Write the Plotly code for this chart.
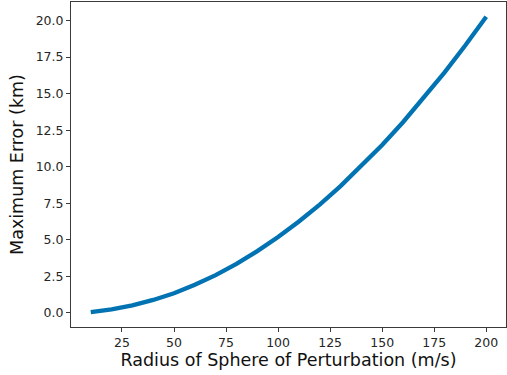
import plotly.graph_objects as go

radius = [10, 20, 30, 40, 50, 60, 70, 80, 90, 100, 110, 120, 130, 140, 150, 160, 170, 180, 190, 200]
max_error = [0.06, 0.24, 0.52, 0.89, 1.35, 1.93, 2.59, 3.36, 4.23, 5.19, 6.25, 7.41, 8.67, 10.03, 11.48, 13.04, 14.7, 16.45, 18.3, 20.25]
x_ticks = [25, 50, 75, 100, 125, 150, 175, 200]
y_ticks = [0, 2.5, 5, 7.5, 10, 12.5, 15, 17.5, 20]

fig = go.Figure()
fig.add_trace(go.Scatter(x=radius, y=max_error, mode="lines",
                         line=dict(color="#0173b2", width=4.3), showlegend=False))

axis_common = dict(showgrid=False, zeroline=False, showline=True, mirror=True,
                   linecolor="#3a3a3a", linewidth=1, ticks="outside", ticklen=4,
                   tickwidth=1, tickcolor="#3a3a3a",
                   tickfont=dict(family="DejaVu Sans", size=12.5, color="#262626"))

fig.update_xaxes(range=[0.5, 209.5], tickvals=x_ticks, ticktext=[str(v) for v in x_ticks],
                 title=dict(text="Radius of Sphere of Perturbation (m/s)",
                            font=dict(family="DejaVu Sans", size=17.5, color="#111111"), standoff=3),
                 **axis_common)
fig.update_yaxes(range=[-0.96, 21.26], tickvals=y_ticks, ticktext=[f"{v:.1f}" for v in y_ticks],
                 title=dict(text="Maximum Error (km)",
                            font=dict(family="DejaVu Sans", size=17.5, color="#111111"), standoff=7),
                 **axis_common)

fig.update_layout(width=507, height=375, margin=dict(l=71, r=1, t=2, b=48),
                  plot_bgcolor="white", paper_bgcolor="white")

fig.write_html("out.html")
